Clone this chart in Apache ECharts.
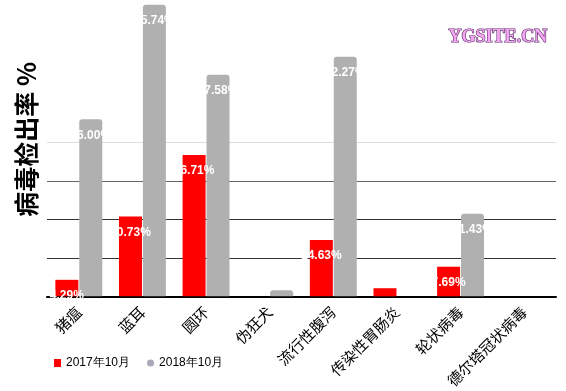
<!DOCTYPE html>
<html><head><meta charset="utf-8">
<script src="https://cdn.jsdelivr.net/npm/echarts@6/dist/echarts.min.js"></script>
<style>html,body{margin:0;padding:0;background:#fff}#c{width:566px;height:391px}</style>
</head><body><div id="c"></div>
<script>
const categories = ['猪瘟','蓝耳','圆环','伪狂犬','流行性腹泻','传染性胃肠炎','轮状病毒','德尔塔冠状病毒'];
const series2017 = [4.29, 20.73, 36.71, 0, 14.63, 2.10, 7.69, 0];
const series2018 = [46.00, 75.74, 57.58, 1.60, 62.27, 0, 21.43, 0];
const seriesNames = ['2017年10月','2018年10月'];
const yTitle = '病毒检出率 %';
const watermark = 'YGSITE.CN';

const chart = echarts.init(document.getElementById('c'));
const lbl = {
  show: true, position: 'insideTop', distance: 10, color: '#fff', fontWeight: 'bold',
  fontSize: 12, fontFamily: 'Liberation Sans',
  formatter: p => p.value >= 3 ? p.value.toFixed(2) + '%' : ''
};
chart.setOption({
  animation: false,
  backgroundColor: '#fff',
  grid: { left: 47, right: 10, top: 0, bottom: 93 },
  legend: {
    left: 49, top: 352, itemWidth: 7, itemHeight: 8, itemGap: 17,
    textStyle: { fontSize: 12, color: '#000', fontFamily: 'Liberation Sans' },
    data: [{ name: seriesNames[0], icon: 'rect' }, { name: seriesNames[1], icon: 'circle', itemStyle: { color: '#a8a8b8' } }]
  },
  xAxis: {
    type: 'category', data: categories,
    axisLine: { lineStyle: { color: '#000', width: 2 } },
    axisTick: { show: false },
    axisLabel: { rotate: 45, fontSize: 15, color: '#000', margin: 13, interval: 0, fontFamily: 'Noto Sans CJK SC' }
  },
  yAxis: {
    type: 'value', min: 0, max: 77, interval: 10,
    axisLine: { show: false }, axisTick: { show: false }, axisLabel: { show: false },
    splitLine: { lineStyle: { width: 1, color: ['#000', '#333', '#333', '#666', '#ddd', '#fff', '#fff', '#fff', '#fff'] } }
  },
  series: [
    { name: seriesNames[0], type: 'bar', data: series2017, barWidth: 23, barGap: '4%',
      itemStyle: { color: '#ff0000' }, label: lbl },
    { name: seriesNames[1], type: 'bar', data: series2018, barWidth: 23,
      itemStyle: { color: '#b0b0b0', borderRadius: [3, 3, 0, 0] }, label: lbl }
  ],
  graphic: [
    { type: 'text', left: 14, top: 62, rotation: Math.PI / 2, originX: 0, originY: 0,
      style: { text: yTitle, fontSize: 25, fontWeight: 'bold', fill: '#000', fontFamily: 'Noto Sans CJK SC' } },
    { type: 'text', left: 448, top: 28,
      style: { text: watermark, fontSize: 18, fontWeight: 'bold', fill: '#f4a6f0', stroke: '#5a2a6a', lineWidth: 1.2, fontFamily: 'Liberation Serif' } }
  ]
});
</script></body></html>
